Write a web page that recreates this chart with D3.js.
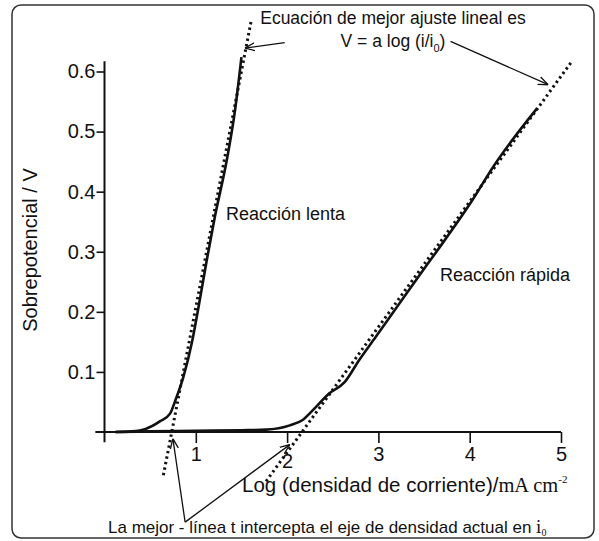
<!DOCTYPE html>
<html>
<head>
<meta charset="utf-8">
<script src="https://cdn.jsdelivr.net/npm/d3@7/dist/d3.min.js"></script>
<style>
  body { margin: 0; background: #fff; }
  text { font-family: "Liberation Sans", Arial, sans-serif; fill: #111; }
  .serif { font-family: "Liberation Serif", "Times New Roman", serif; }
</style>
</head>
<body>
<div id="chart"></div>
<script>

var w = 599, h = 541;

// reacción lenta (measured curve)
var lentaX = [0.12, 0.30, 0.45, 0.61, 0.72, 0.77, 0.865, 0.956, 1.03, 1.12, 1.21, 1.34, 1.43, 1.50];
var lentaV = [0, 0.001, 0.005, 0.018, 0.031, 0.05, 0.092, 0.148, 0.208, 0.286, 0.359, 0.453, 0.536, 0.624];

// reacción rápida (measured curve)
var rapidaX = [0.12, 0.5, 1.0, 1.5, 1.77, 2.03, 2.17, 2.28, 2.46, 2.63, 2.79, 2.97, 3.23, 3.45, 3.65, 4.03, 4.26, 4.74];
var rapidaV = [0, 0.001, 0.002, 0.003, 0.004, 0.011, 0.02, 0.036, 0.064, 0.083, 0.12, 0.158, 0.214, 0.261, 0.303, 0.386, 0.442, 0.539];

// best linear fits (end points)
var fitLentaX = [0.645, 1.61];
var fitLentaV = [-0.072, 0.687];
var fitRapidaX = [1.77, 5.11];
var fitRapidaV = [-0.082, 0.615];

var xTicks = [1, 2, 3, 4, 5];
var yTicks = [0.1, 0.2, 0.3, 0.4, 0.5, 0.6];

// annotation arrows, in data units: [x1, v1, x2, v2]
var arrows = [
  [1.974, 0.648, 1.538, 0.639],
  [3.79, 0.650, 4.86, 0.578],
  [0.883, -0.150, 0.749, -0.011],
  [0.883, -0.150, 2.03, -0.021]
];

var svg = d3.select("#chart")
    .append("svg")
    .attr("width", w)
    .attr("height", h);

svg.append("defs")
    .append("marker")
    .attr("id", "head")
    .attr("viewBox", "0 0 10 10")
    .attr("refX", 10)
    .attr("refY", 5)
    .attr("markerWidth", 10)
    .attr("markerHeight", 10)
    .attr("markerUnits", "userSpaceOnUse")
    .attr("orient", "auto")
    .append("path")
    .attr("d", "M0,1 L10,5 L0,9")
    .attr("fill", "none")
    .attr("stroke", "#111")
    .attr("stroke-width", 1.3);

svg.append("rect")
    .attr("x", 12)
    .attr("y", 5)
    .attr("width", 582)
    .attr("height", 533)
    .attr("rx", 9)
    .attr("fill", "none")
    .attr("stroke", "#333")
    .attr("stroke-width", 1.5);

var x = d3.scaleLinear()
    .domain([0, 5])
    .range([104.5, 561]);

var y = d3.scaleLinear()
    .domain([0, 0.6])
    .range([432, 71.5]);

// axes
var xAxis = d3.axisBottom(x)
    .tickValues(xTicks)
    .tickFormat(d3.format("d"))
    .tickSize(11)
    .tickSizeOuter(0)
    .tickPadding(4);

var gx = svg.append("g")
    .attr("class", "x axis")
    .attr("transform", "translate(0," + y(0) + ")")
    .call(xAxis);

gx.select(".domain").remove();
gx.selectAll("line").attr("stroke", "#111").attr("stroke-width", 1.6);
gx.selectAll("text")
    .style("font-size", "20px")
    .attr("fill", "#111")
    .attr("dy", function(d) { return d === 2 ? "1.05em" : "0.71em"; });

var yAxis = d3.axisLeft(y)
    .tickValues(yTicks)
    .tickFormat(d3.format(".1f"))
    .tickSize(8)
    .tickSizeOuter(0)
    .tickPadding(1);

var gy = svg.append("g")
    .attr("class", "y axis")
    .attr("transform", "translate(" + x(0) + ",0)")
    .call(yAxis);

gy.select(".domain").remove();
gy.selectAll("line").attr("stroke", "#111").attr("stroke-width", 1.6);
gy.selectAll("text")
    .style("font-size", "20px")
    .attr("fill", "#111");

svg.append("line")
    .attr("x1", x(-0.1)).attr("x2", x(5))
    .attr("y1", y(0)).attr("y2", y(0))
    .attr("stroke", "#111")
    .attr("stroke-width", 2);

svg.append("line")
    .attr("x1", x(0)).attr("x2", x(0))
    .attr("y1", y(-0.017)).attr("y2", y(0.617))
    .attr("stroke", "#111")
    .attr("stroke-width", 2);

// curves
var line = d3.line()
    .x(function(d) { return x(d[0]); })
    .y(function(d) { return y(d[1]); })
    .curve(d3.curveMonotoneX);

var straight = d3.line()
    .x(function(d) { return x(d[0]); })
    .y(function(d) { return y(d[1]); });

svg.append("path")
    .datum(d3.zip(rapidaX, rapidaV))
    .attr("d", line)
    .attr("fill", "none")
    .attr("stroke", "#111")
    .attr("stroke-width", 2.6);

svg.append("path")
    .datum(d3.zip(lentaX, lentaV))
    .attr("d", line)
    .attr("fill", "none")
    .attr("stroke", "#111")
    .attr("stroke-width", 2.6);

[d3.zip(fitLentaX, fitLentaV), d3.zip(fitRapidaX, fitRapidaV)].forEach(function(pts) {
  svg.append("path")
      .datum(pts)
      .attr("d", straight)
      .attr("fill", "none")
      .attr("stroke", "#111")
      .attr("stroke-width", 3)
      .attr("stroke-dasharray", "2.4 3.2");
});

// arrows
svg.selectAll(".arrow")
    .data(arrows)
    .enter()
    .append("line")
    .attr("class", "arrow")
    .attr("x1", function(d) { return x(d[0]); })
    .attr("y1", function(d) { return y(d[1]); })
    .attr("x2", function(d) { return x(d[2]); })
    .attr("y2", function(d) { return y(d[3]); })
    .attr("stroke", "#111")
    .attr("stroke-width", 1.3)
    .attr("marker-end", "url(#head)");

// labels
svg.append("text")
    .attr("transform", "translate(37,250) rotate(-90)")
    .style("text-anchor", "middle")
    .style("font-size", "20px")
    .text("Sobrepotencial / V");

var xl = svg.append("text")
    .attr("x", 242)
    .attr("y", 492)
    .style("font-size", "20.5px");
xl.append("tspan").text("Log (densidad de corriente)/");
xl.append("tspan").attr("class", "serif").text("mA cm");
xl.append("tspan").attr("class", "serif").attr("dy", -9).style("font-size", "11px").text("-2");

svg.append("text")
    .attr("x", 226)
    .attr("y", 220)
    .style("font-size", "18px")
    .text("Reacción lenta");

svg.append("text")
    .attr("x", 440)
    .attr("y", 281)
    .style("font-size", "18px")
    .text("Reacción rápida");

svg.append("text")
    .attr("x", 393)
    .attr("y", 24)
    .style("text-anchor", "middle")
    .style("font-size", "17.5px")
    .text("Ecuación de mejor ajuste lineal es");

var eq = svg.append("text")
    .attr("x", 393)
    .attr("y", 47)
    .style("text-anchor", "middle")
    .style("font-size", "17.5px");
eq.append("tspan").text("V = a log (i/i");
eq.append("tspan").attr("dy", 5).style("font-size", "11px").text("0");
eq.append("tspan").attr("dy", -5).text(")");

var bt = svg.append("text")
    .attr("x", 108)
    .attr("y", 533)
    .style("font-size", "17px");
bt.append("tspan").text("La mejor - línea t intercepta el eje de densidad actual en ");
bt.append("tspan").attr("class", "serif").style("font-size", "19px").text("i");
bt.append("tspan").attr("class", "serif").attr("dy", 3).style("font-size", "10px").text("0");

</script>
</body>
</html>
